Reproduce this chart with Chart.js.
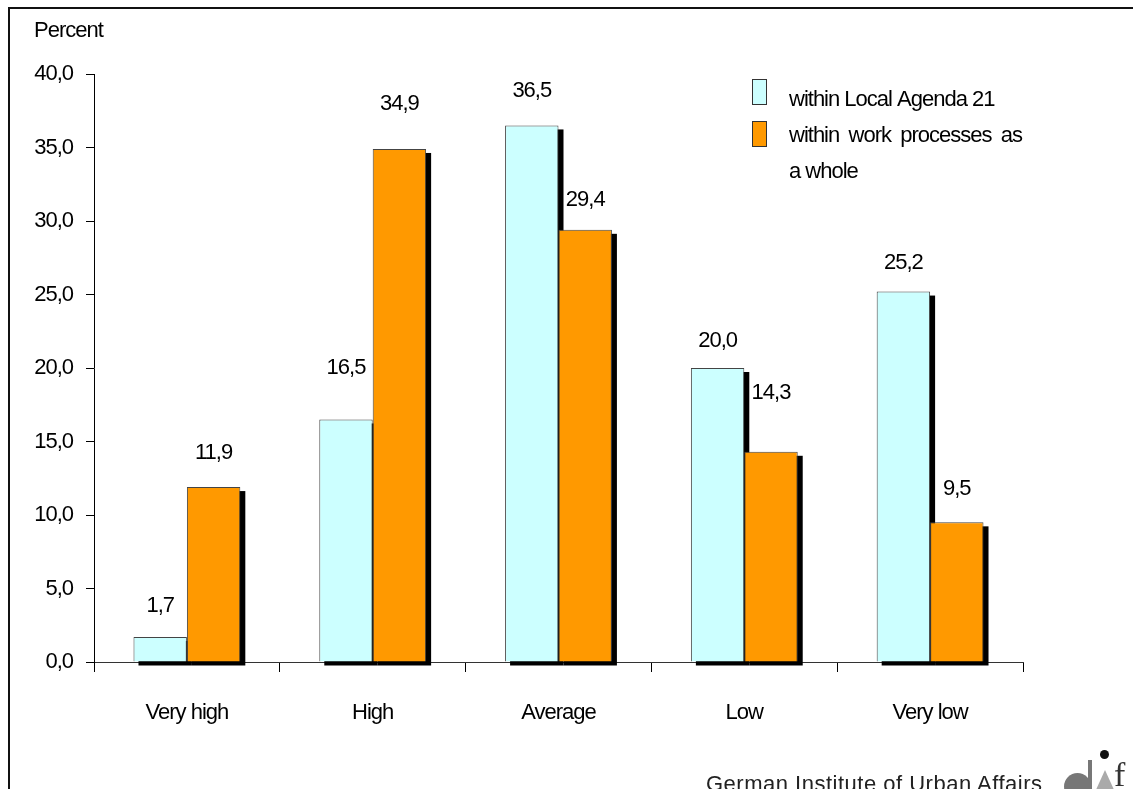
<!DOCTYPE html>
<html>
<head>
<meta charset="utf-8">
<script src="https://cdn.jsdelivr.net/npm/chart.js@4/dist/chart.umd.min.js"></script>
<style>
  html, body { margin: 0; padding: 0; background: #fff; overflow: hidden; }
  #wrap { position: relative; width: 1133px; height: 789px; }
  #frame { position: absolute; left: 8px; top: 7px; width: 1200px; height: 900px;
           border-top: 2px solid #111; border-left: 2px solid #111; }
  canvas { position: absolute; left: 0; top: 0; }
  #footer { position: absolute; left: 706px; top: 771px; font-family: "Liberation Sans", Arial, sans-serif;
            font-size: 22px; line-height: 26px; color: #222; white-space: nowrap; letter-spacing: 0.5px; }
  #logoCircle { position: absolute; left: 1064px; top: 773px; width: 27px; height: 27px; border-radius: 50%; background: #777; }
  #logoStem { position: absolute; left: 1088px; top: 760px; width: 4px; height: 40px; background: #777; }
  #logoDot { position: absolute; left: 1100px; top: 750px; width: 9px; height: 9px; border-radius: 50%; background: #111; }
  #logoTri { position: absolute; left: 1095px; top: 770px; width: 0; height: 0;
             border-left: 10px solid transparent; border-right: 10px solid transparent; border-bottom: 22px solid #aaa; }
  #logoF { position: absolute; left: 1114px; top: 758px; font-family: "Liberation Serif", serif; font-size: 34px; line-height: 34px; color: #333; }
</style>
</head>
<body>
<div id="wrap">
  <canvas id="c" width="1133" height="789"></canvas>
  <div id="frame"></div>
  <div id="footer">German Institute of Urban Affairs</div>
  <div id="logoCircle"></div>
  <div id="logoStem"></div>
  <div id="logoTri"></div>
  <div id="logoDot"></div>
  <div id="logoF">f</div>
</div>
<script>
// ---- data ----
const categories = ["Very high", "High", "Average", "Low", "Very low"];
const localAgenda = [1.7, 16.5, 36.5, 20.0, 25.2];
const workProcesses = [11.9, 34.9, 29.4, 14.3, 9.5];
const seriesNames = ["within Local Agenda 21", "within work processes as a whole"];
const yTicks = { min: 0, max: 40, step: 5 };
const yTitle = "Percent";
// label lift above bar top (px), layout only
const liftLocal = [31, 52, 35, 27, 29];
const liftWork = [34, 45, 30, 59, 33];

const CYAN = "#CCFFFF";
const ORANGE = "#FF9900";
const FAMILY = "'Liberation Sans', Arial, sans-serif";
const FSIZE = 22;
const LS = "-1px";
const fmt = v => v.toFixed(1).replace(".", ",");

Chart.defaults.font.family = FAMILY;
Chart.defaults.font.size = FSIZE;
Chart.defaults.color = "#000";

const spacingPlugin = {
  id: "condense",
  beforeInit(chart) { chart.ctx.letterSpacing = LS; },
  beforeUpdate(chart) { chart.ctx.letterSpacing = LS; },
  beforeDraw(chart) { chart.ctx.letterSpacing = LS; }
};

const shadowPlugin = {
  id: "shadows",
  beforeDatasetsDraw(chart) {
    const ctx = chart.ctx;
    ctx.save();
    ctx.fillStyle = "#000";
    [0, 1].forEach(di => {
      const meta = chart.getDatasetMeta(di);
      meta.data.forEach(bar => {
        const p = bar.getProps(["x", "y", "base", "width"], true);
        ctx.fillRect(p.x - p.width / 2 + 5, p.y + 4, p.width, p.base - p.y);
      });
    });
    ctx.restore();
  }
};

const labelPlugin = {
  id: "valueLabels",
  afterDatasetsDraw(chart) {
    const ctx = chart.ctx;
    ctx.save();
    ctx.letterSpacing = LS;
    ctx.font = FSIZE + "px " + FAMILY;
    ctx.fillStyle = "#000";
    ctx.textAlign = "center";
    ctx.textBaseline = "middle";
    const lifts = [liftLocal, liftWork];
    [0, 1].forEach(di => {
      const meta = chart.getDatasetMeta(di);
      const vals = chart.data.datasets[di].data;
      meta.data.forEach((bar, i) => {
        const p = bar.getProps(["x", "y"], true);
        ctx.fillText(fmt(vals[i]), p.x, p.y - lifts[di][i]);
      });
    });
    ctx.restore();
  }
};

const legendPlugin = {
  id: "customLegend",
  afterDraw(chart) {
    const ctx = chart.ctx;
    ctx.save();
    ctx.letterSpacing = LS;
    ctx.lineWidth = 1;
    ctx.strokeStyle = "#333";
    ctx.fillStyle = CYAN;
    ctx.fillRect(752.5, 79.5, 14, 25);
    ctx.strokeRect(752.5, 79.5, 14, 25);
    ctx.fillStyle = ORANGE;
    ctx.fillRect(752.5, 121.5, 14, 25);
    ctx.strokeRect(752.5, 121.5, 14, 25);
    ctx.font = FSIZE + "px " + FAMILY;
    ctx.fillStyle = "#000";
    ctx.textBaseline = "middle";
    ctx.textAlign = "left";
    ctx.fillText(seriesNames[0], 789, 100);
    // second entry wrapped & justified
    const words = seriesNames[1].split(" ");
    const line1 = words.slice(0, 4);
    const line2 = words.slice(4).join(" ");
    const left = 789, right = 1022;
    const widths = line1.map(w => ctx.measureText(w).width);
    const total = widths.reduce((a, b) => a + b, 0);
    const gap = Math.max(4, (right - left - total) / (line1.length - 1));
    let x = left;
    line1.forEach((w, i) => { ctx.fillText(w, x, 136); x += widths[i] + gap; });
    ctx.fillText(line2, left, 172);
    // axis title
    ctx.fillText(yTitle, 34, 31);
    ctx.restore();
  }
};

new Chart(document.getElementById("c"), {
  type: "bar",
  data: {
    labels: categories,
    datasets: [
      { label: seriesNames[0], data: localAgenda, backgroundColor: CYAN, borderColor: "#444", borderWidth: 1 },
      { label: seriesNames[1], data: workProcesses, backgroundColor: ORANGE, borderColor: "#444", borderWidth: 1 }
    ]
  },
  options: {
    responsive: false,
    animation: false,
    devicePixelRatio: 1,
    layout: { padding: { top: 74, right: 110, left: 0, bottom: 0 } },
    datasets: { bar: { categoryPercentage: 0.575, barPercentage: 1.0 } },
    plugins: { legend: { display: false }, tooltip: { enabled: false } },
    scales: {
      x: {
        afterFit(scale) { scale.height = 127; },
        grid: { display: true, drawOnChartArea: false, offset: true, tickLength: 10, color: "#000", lineWidth: 1 },
        border: { display: true, color: "#333", width: 1 },
        ticks: { padding: 28, color: "#000" }
      },
      y: {
        min: yTicks.min, max: yTicks.max,
        afterFit(scale) { scale.width = 94; },
        grid: { display: true, drawOnChartArea: false, tickLength: 8, color: "#000", lineWidth: 1 },
        border: { display: true, color: "#000", width: 1 },
        ticks: { stepSize: yTicks.step, padding: 13, callback: v => fmt(v), color: "#000" }
      }
    }
  },
  plugins: [spacingPlugin, shadowPlugin, labelPlugin, legendPlugin]
});
</script>
</body>
</html>
